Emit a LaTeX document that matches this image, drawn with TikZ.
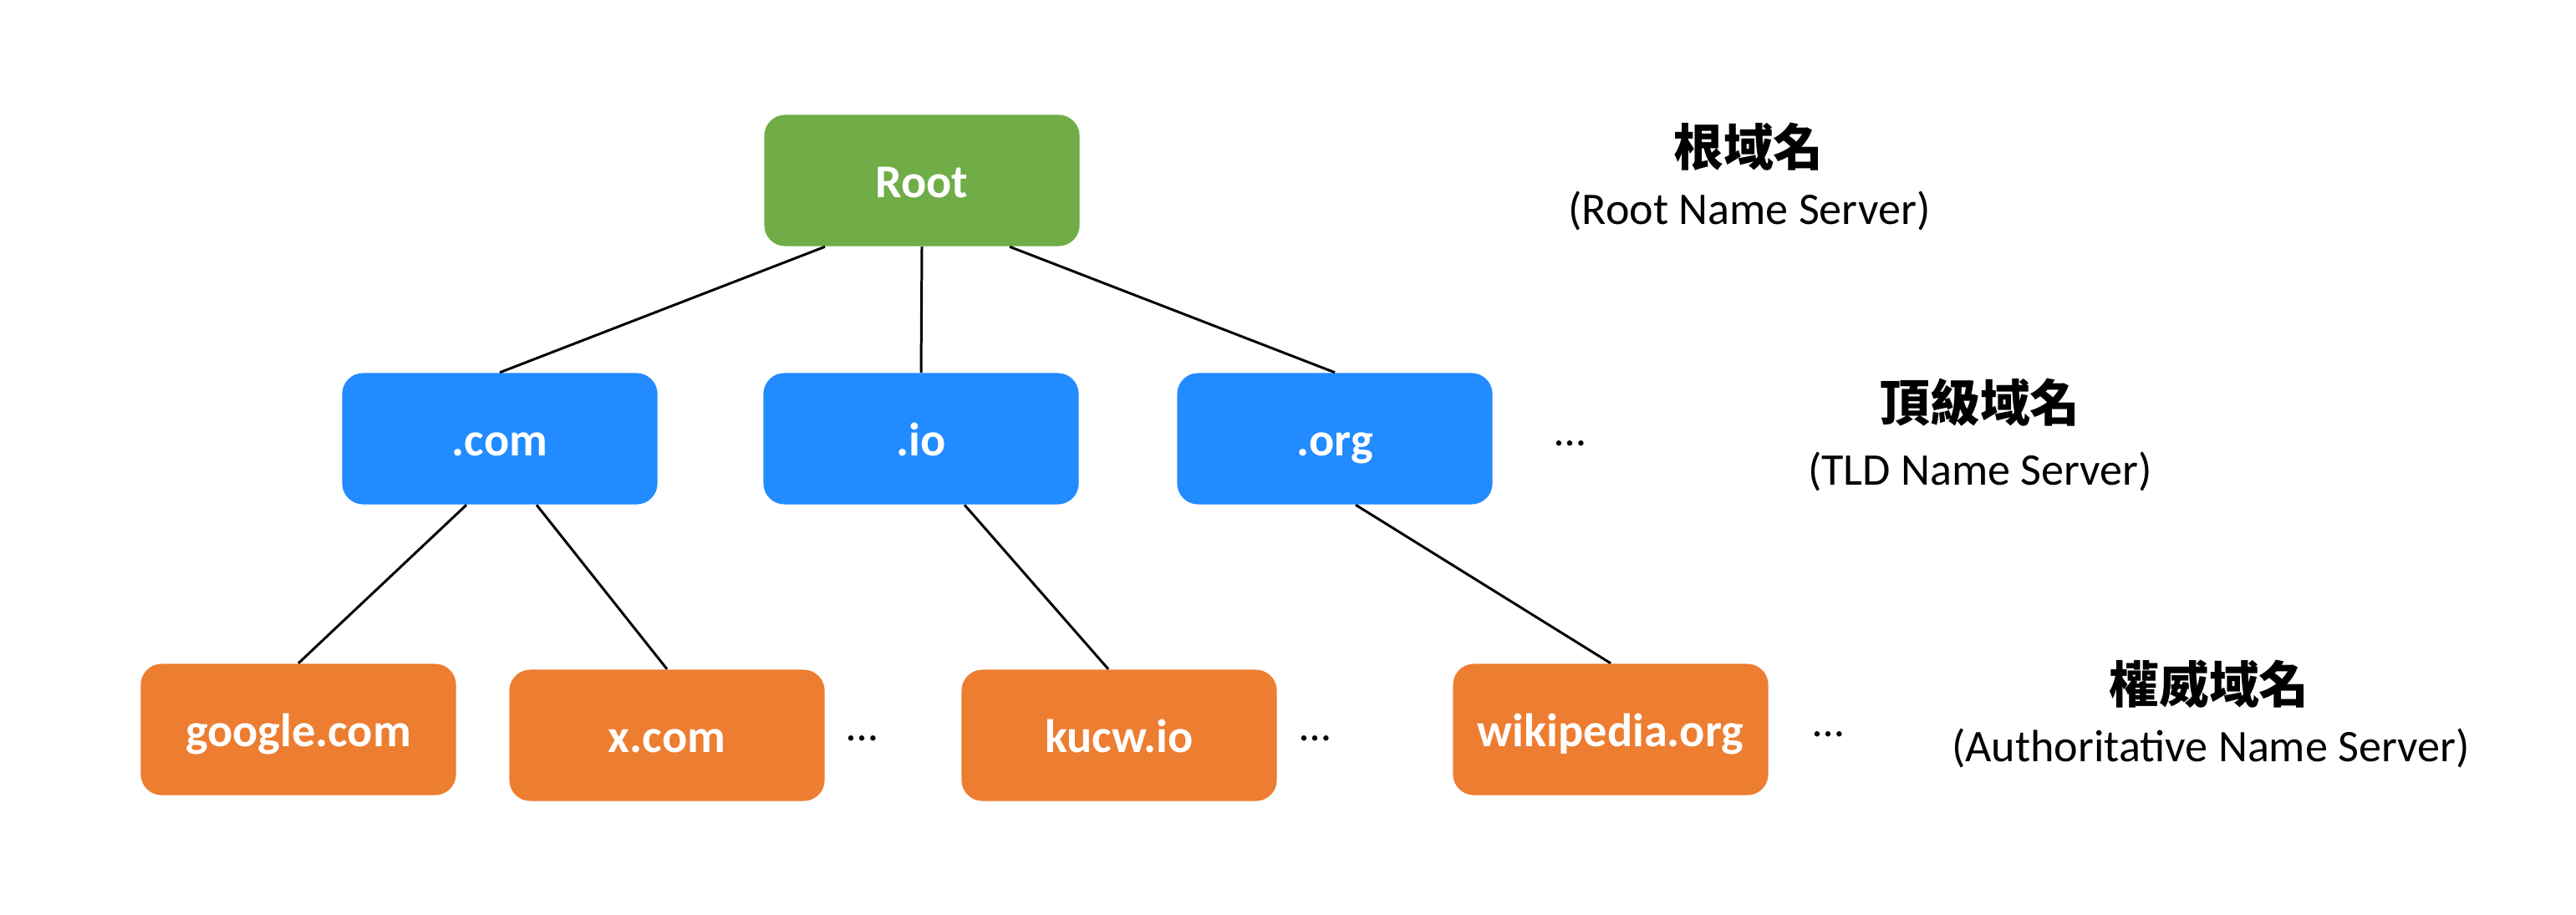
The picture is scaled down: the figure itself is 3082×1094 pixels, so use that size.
\documentclass[tikz,border=0pt]{standalone}
\usepackage{fontspec}
\setmainfont{Carlito}
\newfontfamily\cjk{Noto Sans CJK TC}
\usepackage{tikz}
\usetikzlibrary{calc}
\usepackage{xcolor}
\definecolor{rootgreen}{HTML}{70AD47}
\definecolor{tldblue}{HTML}{228BFF}
\definecolor{authorange}{HTML}{ED7D31}

\begin{document}
\begin{tikzpicture}[x=0.01cm,y=-0.01cm,
  box/.style={rounded corners=0.25cm, minimum width=3.77cm, minimum height=1.57cm,
    text height=0.4cm, text depth=0cm, text=white, font=\fontsize{16}{19}\selectfont\bfseries},
  tier/.style={font=\cjk\fontsize{17}{20}\selectfont\bfseries},
  tiersub/.style={font=\fontsize{15.4}{18}\selectfont},
  more/.style={font=\fontsize{15}{18}\selectfont},
  link/.style={line width=0.85pt}]
  \useasboundingbox (0,0) rectangle (3082,1094);
  \node[box, fill=rootgreen] (root) at (1103,216) {Root};
  \foreach \x/\n/\t in {598/com/.com, 1102/io/.io, 1597/org/.org}
    \node[box, fill=tldblue] (\n) at (\x,525) {\t};
  \foreach \x/\y/\n/\t in {357/873/google/google.com, 798/880/xcom/x.com, 1339/880/kucw/kucw.io, 1927/873/wiki/wikipedia.org}
    \node[box, fill=authorange] (\n) at (\x,\y) {\t};
  % links between levels
  \foreach \a/\s/\b/\e in {root/-116/com/0, root/0/io/0, root/105/org/0, com/-40/google/0, com/44/xcom/0, io/52/kucw/-13, org/25/wiki/0}
    \draw[link] ($(\a.south)+(\s,0)$) -- ($(\b.north)+(\e,0)$);
  \node[more] (tldmore) at (1879,531) {…};
  \foreach \x/\y/\n in {1032/884/more1, 1574/884/more2, 2188/879/more3}
    \node[more] (\n) at (\x,\y) {…};
  % level names
  \node[tier] (rootname) at (2092,176) {根域名};
  \node[tiersub] (rootsub) at (2093,252) {(Root Name Server)};
  \node[tier] (tldname) at (2369,482) {頂級域名};
  \node[tiersub] (tldsub) at (2369,564) {(TLD Name Server)};
  \node[tier] (authname) at (2643,819) {權威域名};
  \node[tiersub] (authsub) at (2645,895) {(Authoritative Name Server)};
\end{tikzpicture}
\end{document}
